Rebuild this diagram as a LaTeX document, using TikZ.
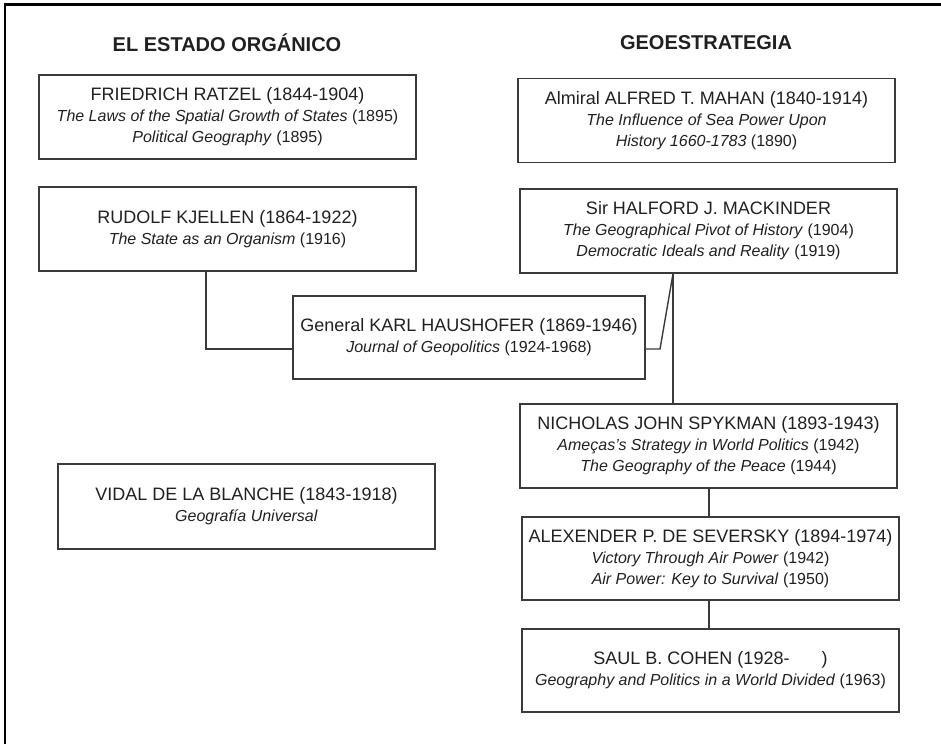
\documentclass[tikz,border=0pt]{standalone}
\usepackage{fontspec}
\setmainfont{Liberation Sans}
\definecolor{txtc}{HTML}{202020}
\definecolor{boxc}{HTML}{3A3A3A}
\newcommand{\subl}[1]{{\fontsize{16}{21}\selectfont #1}}
\tikzset{
  box/.style={draw=boxc, line width=1.4pt, minimum width=377pt, minimum height=84pt,
    align=center, inner sep=0pt, text=txtc, font=\fontsize{18}{21}\selectfont},
  ttl/.style={text=txtc, font=\fontsize{20}{24}\selectfont\bfseries, inner sep=0pt},
  conn/.style={draw=boxc, line width=1.4pt},
  frame/.style={draw=black, line width=2.5pt}
}
\begin{document}
\begin{tikzpicture}[x=1pt,y=-1pt]
\useasboundingbox (0,0) rectangle (941,744);
\draw[frame] (5,744) -- (5,4.5) -- (941,4.5);

\node[ttl] (t1) at (227,43) {EL ESTADO ORGÁNICO};
\node[ttl] (t2) at (706,43) {GEOESTRATEGIA};

\node[box] (rat) at (227.5,117) {FRIEDRICH RATZEL (1844-1904)\\ \subl{\textit{The Laws of the Spatial Growth of States} (1895)}\\ \subl{\textit{Political Geography} (1895)}};
\node[box] (kje) at (227.5,229) {RUDOLF KJELLEN (1864-1922)\\ \subl{\textit{The State as an Organism} (1916)}};
\node[box] (mah) at (706.5,120.5) {Almiral ALFRED T. MAHAN (1840-1914)\\ \subl{\textit{The Influence of Sea Power Upon}}\\ \subl{\textit{History 1660-1783} (1890)}};
\node[box] (mac) at (708.5,231) {Sir HALFORD J. MACKINDER\\ \subl{\textit{The Geographical Pivot of History} (1904)}\\ \subl{\textit{Democratic Ideals and Reality} (1919)}};
\node[box, minimum width=352pt, minimum height=83pt] (hau) at (469,337.5) {General KARL HAUSHOFER (1869-1946)\\ \subl{\textit{Journal of Geopolitics} (1924-1968)}};
\node[box] (spy) at (708.5,446) {NICHOLAS JOHN SPYKMAN (1893-1943)\\ \subl{\textit{Ameças's Strategy in World Politics} (1942)}\\ \subl{\textit{The Geography of the Peace} (1944)}};
\node[box, minimum height=83pt] (sev) at (710.5,558.5) {ALEXENDER P. DE SEVERSKY (1894-1974)\\ \subl{\textit{Victory Through Air Power} (1942)}\\ \subl{\textit{Air Power: Key to Survival} (1950)}};
\node[box, minimum height=83pt] (coh) at (710.5,670.5) {SAUL B. COHEN (1928-\hspace{32pt})\\ \subl{\textit{Geography and Politics in a World Divided} (1963)}};
\node[box, minimum height=85pt] (vid) at (246.5,506.5) {VIDAL DE LA BLANCHE (1843-1918)\\ \subl{\textit{Geografía Universal}}};

\coordinate (k1) at (206,349);
\coordinate (h1) at (660,349);
\coordinate (m1) at (673,273);
\coordinate (s1) at (709,0);
\draw[conn] (kje.south -| k1) -- (k1) -- (hau.west |- k1);
\draw[conn] (hau.east |- h1) -- (h1) -- (mac.south -| m1);
\draw[conn] (mac.south -| m1) -- (spy.north -| m1);
\draw[conn] (spy.south -| s1) -- (sev.north -| s1);
\draw[conn] (sev.south -| s1) -- (coh.north -| s1);
\end{tikzpicture}
\end{document}
